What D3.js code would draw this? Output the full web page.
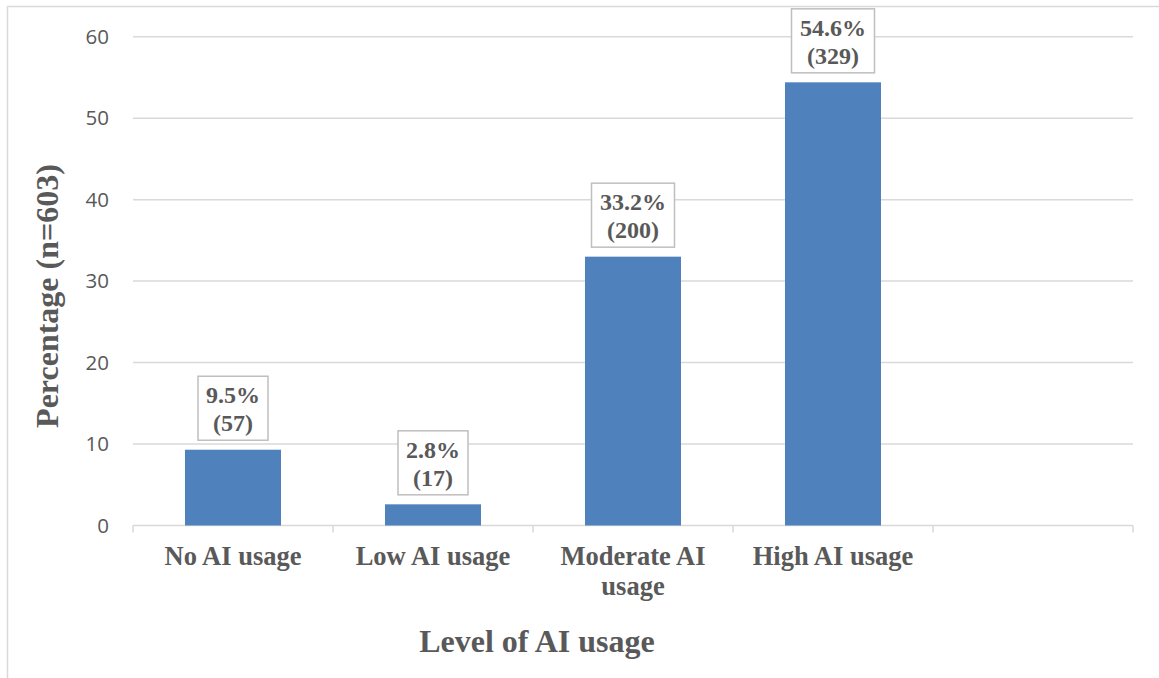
<!DOCTYPE html>
<html>
<head>
<meta charset="utf-8">
<script src="https://cdn.jsdelivr.net/npm/d3@7/dist/d3.min.js"></script>
<style>
  html, body { margin: 0; padding: 0; background: #fff; }
  svg { display: block; }
</style>
</head>
<body>
<svg id="chart" width="1159" height="678"></svg>
<script>
const categories = ["No AI usage", "Low AI usage", "Moderate AI usage", "High AI usage", ""];
const categoryLines = [["No AI usage"], ["Low AI usage"], ["Moderate AI", "usage"], ["High AI usage"], []];
const barValues = [9.3, 2.6, 33.0, 54.4];
const labelPercent = ["9.5%", "2.8%", "33.2%", "54.6%"];
const labelCount = ["(57)", "(17)", "(200)", "(329)"];
const yTicks = [0, 10, 20, 30, 40, 50, 60];
const yTitle = "Percentage (n=603)";
const xTitle = "Level of AI usage";

(function () {
const svg = d3.select("#chart");
const pLeft = 133, pRight = 1133, pTop = 36.7, pBottom = 525.5;
const grey = "#595959";
const serif = "'Liberation Serif', 'Times New Roman', serif";

// outer border
svg.append("rect").attr("x", 7.5).attr("y", 6.5).attr("width", 1200).attr("height", 700)
  .attr("fill", "none").attr("stroke", "#d9d9d9").attr("stroke-width", 1.5);

const x = d3.scaleBand().domain(categories.map((c, i) => i)).range([pLeft, pRight])
  .paddingInner(0.52).paddingOuter(0.26);
const step = x.step();
const y = d3.scaleLinear().domain([0, 60]).range([pBottom, pTop]);

// gridlines
svg.append("g").selectAll("line").data(yTicks.filter(t => t > 0)).join("line")
  .attr("x1", pLeft).attr("x2", pRight)
  .attr("y1", d => y(d)).attr("y2", d => y(d))
  .attr("stroke", "#d9d9d9").attr("stroke-width", 1.5);

// y axis labels
const yAxis = d3.axisLeft(y).tickValues(yTicks).tickSize(0).tickPadding(24);
const ya = svg.append("g").attr("transform", `translate(${pLeft},0)`).call(yAxis);
ya.select(".domain").remove();
ya.selectAll("text").attr("fill", grey).attr("font-family", "'Open Sans', sans-serif")
  .attr("font-size", 20.5);

// x axis line + ticks
const xa = svg.append("g");
xa.append("line").attr("x1", pLeft).attr("x2", pRight).attr("y1", y(0)).attr("y2", y(0))
  .attr("stroke", "#d9d9d9").attr("stroke-width", 1.5);
const tickXs = d3.range(categories.length + 1).map(i => pLeft + i * step);
xa.selectAll("line.tick").data(tickXs).join("line").attr("class", "tick")
  .attr("x1", d => d).attr("x2", d => d).attr("y1", y(0)).attr("y2", y(0) + 7)
  .attr("stroke", "#d9d9d9").attr("stroke-width", 1.5);

// bars
svg.append("g").selectAll("rect").data(barValues).join("rect")
  .attr("x", (d, i) => x(i)).attr("width", x.bandwidth())
  .attr("y", d => y(d)).attr("height", d => y(0) - y(d))
  .attr("fill", "#4f81bd");

// data labels
const lg = svg.append("g").selectAll("g").data(barValues).join("g")
  .attr("transform", (d, i) => `translate(${x(i) + x.bandwidth() / 2},${y(d) - 9.5})`);
lg.append("rect")
  .attr("x", (d, i) => labelPercent[i].length > 4 ? -41.5 : -35)
  .attr("width", (d, i) => labelPercent[i].length > 4 ? 83 : 70)
  .attr("y", -64).attr("height", 64)
  .attr("fill", "#fff").attr("stroke", "#bfbfbf").attr("stroke-width", 1.5);
lg.append("text").attr("text-anchor", "middle").attr("y", -37)
  .attr("font-family", serif).attr("font-weight", "bold").attr("font-size", 24)
  .attr("fill", grey).text((d, i) => labelPercent[i]);
lg.append("text").attr("text-anchor", "middle").attr("y", -9)
  .attr("font-family", serif).attr("font-weight", "bold").attr("font-size", 24)
  .attr("fill", grey).text((d, i) => labelCount[i]);

// category labels
const cg = svg.append("g").selectAll("text").data(categoryLines).join("text")
  .attr("text-anchor", "middle")
  .attr("font-family", serif).attr("font-weight", "bold").attr("font-size", 26.5)
  .attr("fill", grey)
  .attr("x", (d, i) => x(i) + x.bandwidth() / 2).attr("y", 565);
cg.selectAll("tspan").data(d => d).join("tspan")
  .attr("x", function () { return d3.select(this.parentNode).attr("x"); })
  .attr("dy", (d, j) => j === 0 ? 0 : 30).text(d => d);

// axis titles
svg.append("text").attr("x", 537).attr("y", 652)
  .attr("text-anchor", "middle")
  .attr("font-family", serif).attr("font-weight", "bold").attr("font-size", 32)
  .attr("fill", grey).text(xTitle);

svg.append("text").attr("transform", "translate(58,296) rotate(-90)")
  .attr("text-anchor", "middle")
  .attr("font-family", serif).attr("font-weight", "bold").attr("font-size", 32)
  .attr("fill", grey).text(yTitle);
})();
</script>
</body>
</html>
